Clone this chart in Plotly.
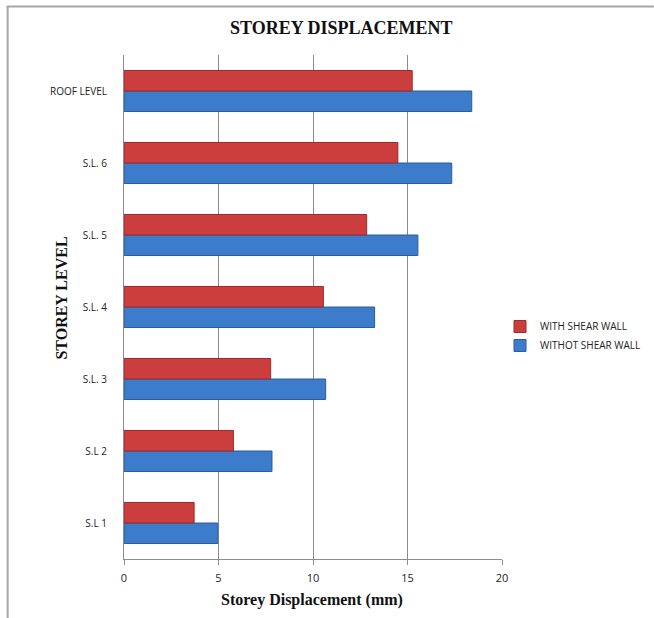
import plotly.graph_objects as go

# Storey levels, listed bottom to top
levels = ["S.L 1", "S.L 2", "S.L. 3", "S.L. 4", "S.L. 5", "S.L. 6", "ROOF LEVEL"]
with_shear_wall = [3.71, 5.79, 7.76, 10.55, 12.84, 14.49, 15.25]
without_shear_wall = [4.96, 7.83, 10.67, 13.26, 15.55, 17.34, 18.40]
x_ticks = [0, 5, 10, 15, 20]

W, H = 654, 618
L, R, T, B = 123.5, 152, 55, 59
pw, ph = W - L - R, H - T - B


def px(x):
    return (x - L) / pw


def py(y):
    return (H - B - y) / ph


fig = go.Figure()
fig.add_trace(go.Bar(
    y=levels, x=without_shear_wall, orientation="h", name="WITHOT SHEAR WALL",
    marker=dict(color="#3D7CCB", line=dict(color="#2A5C9E", width=1)),
    legendrank=2,
))
fig.add_trace(go.Bar(
    y=levels, x=with_shear_wall, orientation="h", name="WITH SHEAR WALL",
    marker=dict(color="#CC3D3D", line=dict(color="#9E2B2B", width=1)),
    legendrank=1,
))

fig.update_layout(
    width=W, height=H,
    margin=dict(l=L, r=R, t=T, b=B, pad=0, autoexpand=False),
    paper_bgcolor="white", plot_bgcolor="white",
    barmode="group", bargap=0.43, bargroupgap=0.0,
    showlegend=True,
    legend=dict(x=px(500), y=py(312), xanchor="left", yanchor="top",
                font=dict(family="Open Sans", size=10, color="#222"),
                bgcolor="rgba(0,0,0,0)", itemwidth=30, tracegroupgap=0),
    xaxis=dict(range=[0, 20], tickvals=x_ticks, showgrid=True, gridcolor="#8c8c8c",
               gridwidth=1, showline=True, linecolor="#8c8c8c", linewidth=1,
               ticks="outside", ticklen=5, tickcolor="#8c8c8c", zeroline=False,
               ticklabelstandoff=4,
               tickfont=dict(family="Open Sans", size=11, color="#222"),
               fixedrange=True),
    yaxis=dict(showgrid=False, showline=True, linecolor="#8c8c8c", linewidth=1,
               ticks="", tickfont=dict(family="Open Sans", size=10, color="#222"),
               ticklabelstandoff=14, fixedrange=True),
    font=dict(family="Open Sans"),
)

# chart frame (top and left edges)
frame = dict(type="line", xref="paper", yref="paper",
             line=dict(color="#a6a6a6", width=2))
fig.add_shape(**frame, x0=px(6), y0=py(6.5), x1=px(654), y1=py(6.5))
fig.add_shape(**frame, x0=px(7), y0=py(6.5), x1=px(7), y1=py(618))

serif = "Liberation Serif"
label = dict(xref="paper", yref="paper", showarrow=False,
             xanchor="center", yanchor="middle")
fig.add_annotation(text="<b>STOREY DISPLACEMENT</b>", x=px(341), y=py(28), **label,
                   font=dict(family=serif, size=18, color="#111"))
fig.add_annotation(text="<b>Storey Displacement (mm)</b>", x=px(312), y=py(600), **label,
                   font=dict(family=serif, size=16, color="#111"))
fig.add_annotation(text="<b>STOREY LEVEL</b>", x=px(60), y=py(298), textangle=-90,
                   **label, font=dict(family=serif, size=16, color="#111"))

fig.write_html("out.html")
